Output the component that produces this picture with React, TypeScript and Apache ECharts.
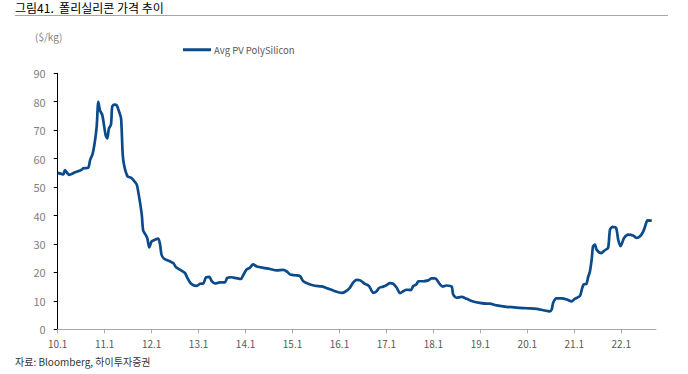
import React, { useEffect, useRef } from "react";
import * as echarts from "echarts";

const seriesName = "Avg PV PolySilicon";
const yearTicks = [2010, 2011, 2012, 2013, 2014, 2015, 2016, 2017, 2018, 2019, 2020, 2021, 2022];
const yTicks = [0, 10, 20, 30, 40, 50, 60, 70, 80, 90];

// decimal-year positions of observations
const dates = [
  2010.0, 2010.12, 2010.155, 2010.24, 2010.37, 2010.51, 2010.545, 2010.65, 2010.69, 2010.74,
  2010.78, 2010.83, 2010.865, 2010.9, 2010.95, 2011.02, 2011.056, 2011.09, 2011.135, 2011.16,
  2011.205, 2011.255, 2011.31, 2011.35, 2011.385, 2011.42, 2011.49, 2011.56, 2011.61, 2011.68,
  2011.715, 2011.79, 2011.82, 2011.87, 2011.91, 2011.95, 2012.0, 2012.07, 2012.14, 2012.18,
  2012.21, 2012.26, 2012.39, 2012.46, 2012.52, 2012.6, 2012.71, 2012.76, 2012.82, 2012.89,
  2012.96, 2013.03, 2013.1, 2013.16, 2013.23, 2013.28, 2013.35, 2013.455, 2013.56, 2013.61,
  2013.7, 2013.8, 2013.9, 2013.95, 2014.02, 2014.09, 2014.16, 2014.24, 2014.38, 2014.52,
  2014.66, 2014.8, 2014.875, 2014.945, 2015.05, 2015.16, 2015.23, 2015.335, 2015.48, 2015.62,
  2015.76, 2015.9, 2016.05, 2016.12, 2016.22, 2016.29, 2016.37, 2016.44, 2016.54, 2016.63,
  2016.72, 2016.78, 2016.85, 2016.93, 2017.0, 2017.075, 2017.145, 2017.22, 2017.29, 2017.36,
  2017.43, 2017.52, 2017.57, 2017.64, 2017.68, 2017.78, 2017.89, 2017.96, 2018.03, 2018.07,
  2018.14, 2018.2, 2018.28, 2018.39, 2018.42, 2018.49, 2018.6, 2018.71, 2018.85, 2018.99,
  2019.13, 2019.2, 2019.35, 2019.56, 2019.77, 2019.985, 2020.2, 2020.34, 2020.48, 2020.52,
  2020.55, 2020.62, 2020.73, 2020.84, 2020.94, 2021.01, 2021.12, 2021.16, 2021.2, 2021.26,
  2021.3, 2021.33, 2021.37, 2021.4, 2021.44, 2021.475, 2021.57, 2021.65, 2021.72, 2021.76,
  2021.81, 2021.89, 2021.935, 2021.985, 2022.06, 2022.15, 2022.25, 2022.33, 2022.4, 2022.47,
  2022.52, 2022.56, 2022.65,
];

// $/kg
const prices = [
  55, 54.5, 56, 54.3, 55.2, 56.1, 56.6, 56.8, 59.5, 61.5,
  64.8, 71.2, 80, 77, 75.3, 68.3, 67.1, 70.6, 72, 78.2,
  79, 78.8, 76.4, 74.1, 61.3, 57.2, 53.7, 53.3, 52.5, 51,
  48.4, 40.3, 34.7, 33.3, 31.9, 28.8, 30.9, 31.5, 31.9, 29.8,
  26.3, 24.9, 23.9, 23.3, 21.8, 21, 19.8, 18.1, 16.4, 15.5,
  15.3, 16, 16.1, 18.3, 18.4, 16.9, 16.1, 16.5, 16.5, 18.1,
  18.3, 18, 17.7, 19, 21, 21.6, 22.8, 22.1, 21.6, 21.2,
  20.7, 20.9, 20.4, 19.3, 19, 18.7, 16.9, 16, 15.3, 15.1,
  14.3, 13.4, 12.8, 13.2, 14.6, 16.4, 17.4, 17.2, 16, 15.2,
  12.8, 13.2, 14.6, 15, 15.5, 16.2, 16, 14.6, 12.7, 13.4,
  13.9, 13.8, 15.2, 15.8, 16.9, 16.9, 17.2, 17.9, 17.9, 17.5,
  15.8, 15, 15.4, 15, 12.3, 11.1, 11.4, 10.7, 9.8, 9.3,
  9, 9, 8.4, 7.9, 7.6, 7.4, 7.2, 6.7, 6.3, 7,
  9.3, 10.9, 10.9, 10.5, 9.8, 10.7, 11.7, 14, 15.8, 16,
  18.7, 20.1, 24.5, 29.2, 29.8, 28, 26.8, 27.8, 28.6, 35,
  36, 35.6, 31.5, 29.2, 32.1, 33.3, 33, 32.1, 32.7, 34.4,
  36.8, 38.3, 38.2,
];

const FONT = '"Noto Sans CJK KR", "Noto Sans", sans-serif';

export default function App() {
  const ref = useRef<HTMLDivElement>(null);
  useEffect(() => {
    if (!ref.current) return;
    const chart = echarts.init(ref.current, null, { renderer: "svg" });
    const data = dates.map((d, i) => [d, prices[i]]);
    chart.setOption({
      animation: false,
      textStyle: { fontFamily: FONT },
      grid: { left: 57.7, right: 32, top: 73.3, bottom: 44.7, containLabel: false },
      legend: {
        left: 178,
        top: 40,
        itemWidth: 28,
        itemHeight: 3,
        itemGap: 4,
        data: [{ name: seriesName, icon: "rect" }],
        textStyle: { color: "#595959", fontSize: 9.5, fontFamily: FONT, padding: [0, 0, 0, -2] },
      },
      xAxis: {
        type: "value",
        min: 2010,
        max: 2022.74,
        interval: 1,
        splitLine: { show: false },
        axisLine: { show: true, lineStyle: { color: "#a6a6a6", width: 1 } },
        axisTick: { show: true, length: 4, lineStyle: { color: "#a6a6a6" }, customValues: yearTicks },
        axisLabel: {
          color: "#595959",
          fontSize: 10,
          margin: 9,
          customValues: yearTicks,
          formatter: (v: number) => `${String(Math.round(v)).slice(2)}.1`,
        },
      },
      yAxis: {
        type: "value",
        min: 0,
        max: 90,
        interval: 10,
        splitLine: { show: false },
        axisLine: { show: true, lineStyle: { color: "#000000", width: 1 } },
        axisTick: { show: true, length: 4, lineStyle: { color: "#000000" } },
        axisLabel: {
          color: "#7f7f7f",
          fontSize: 11,
          margin: 12,
          customValues: yTicks,
        },
      },
      series: [
        {
          name: seriesName,
          type: "line",
          data,
          showSymbol: false,
          smooth: 0.25,
          lineStyle: { color: "#0b4a8b", width: 2.7 },
          itemStyle: { color: "#0b4a8b" },
        },
      ],
      graphic: [
        {
          type: "text",
          left: 15,
          top: 1,
          style: { text: "그림41.  폴리실리콘 가격 추이", fill: "#000", font: `normal 12px ${FONT}` },
        },
        {
          type: "line",
          shape: { x1: 15, y1: 15.5, x2: 668, y2: 15.5 },
          style: { stroke: "#a6a6a6", lineWidth: 1 },
        },
        {
          type: "text",
          left: 35,
          top: 31,
          style: { text: "($/kg)", fill: "#7f7f7f", font: `10px ${FONT}` },
        },
        {
          type: "text",
          left: 15,
          top: 356,
          style: { text: "자료: Bloomberg, 하이투자증권", fill: "#333", font: `10px ${FONT}` },
        },
      ],
    });
    return () => chart.dispose();
  }, []);
  return (
    <div
      ref={ref}
      style={{ position: "fixed", left: 0, top: 0, width: 688, height: 374, background: "#fff" }}
    />
  );
}
